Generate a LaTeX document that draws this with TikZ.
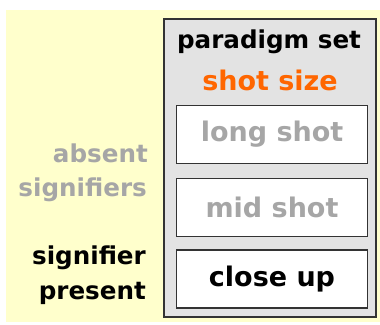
\documentclass[tikz,border=0pt]{standalone}
\usepackage{fontspec}
\setmainfont{DejaVu Sans}
\definecolor{bgyellow}{HTML}{FFFFCC}
\definecolor{setgray}{HTML}{E3E3E3}
\definecolor{dimtext}{HTML}{A6A6A6}
\definecolor{orangetext}{HTML}{FF6600}
\definecolor{edge}{HTML}{333333}
\tikzset{
  px/.style={x=1pt,y=-1pt},
  itembox/.style={draw=edge, line width=1.3pt, fill=white, minimum width=191pt, minimum height=58pt, inner sep=0pt, font=\bfseries\fontsize{27}{30}\selectfont},
  sidelabel/.style={anchor=east, inner sep=0pt, font=\bfseries\fontsize{24.6}{28}\selectfont},
  titletext/.style={inner sep=0pt, font=\bfseries\fontsize{24.6}{28}\selectfont}
}
\begin{document}
\begin{tikzpicture}[px]
\useasboundingbox (0,0) rectangle (380,324);
\fill[white] (0,0) rectangle (380,324);
\fill[bgyellow] (6,10) rectangle (380,322);
\node[draw=edge, line width=1.3pt, fill=setgray, minimum width=212pt, minimum height=298pt, inner sep=0pt] (set) at (270,168) {};
\node[titletext] (title) at (269,42) {paradigm set};
\node[titletext, text=orangetext, font=\bfseries\fontsize{27}{30}\selectfont] (sub) at (270,80) {shot size};
\node[itembox, text=dimtext] (long) at (272,134.5) {long shot};
\node[itembox, text=dimtext] (mid) at (272,207.5) {mid shot};
\node[itembox] (close) at (272,279) {close up};
\node[sidelabel, text=dimtext] (absent) at (148,153) {absent};
\node[sidelabel, text=dimtext] (signifiers) at (147,190) {signifiers};
\node[sidelabel] (signifier) at (146,258) {signifier};
\node[sidelabel] (present) at (146,293) {present};
\end{tikzpicture}
\end{document}
